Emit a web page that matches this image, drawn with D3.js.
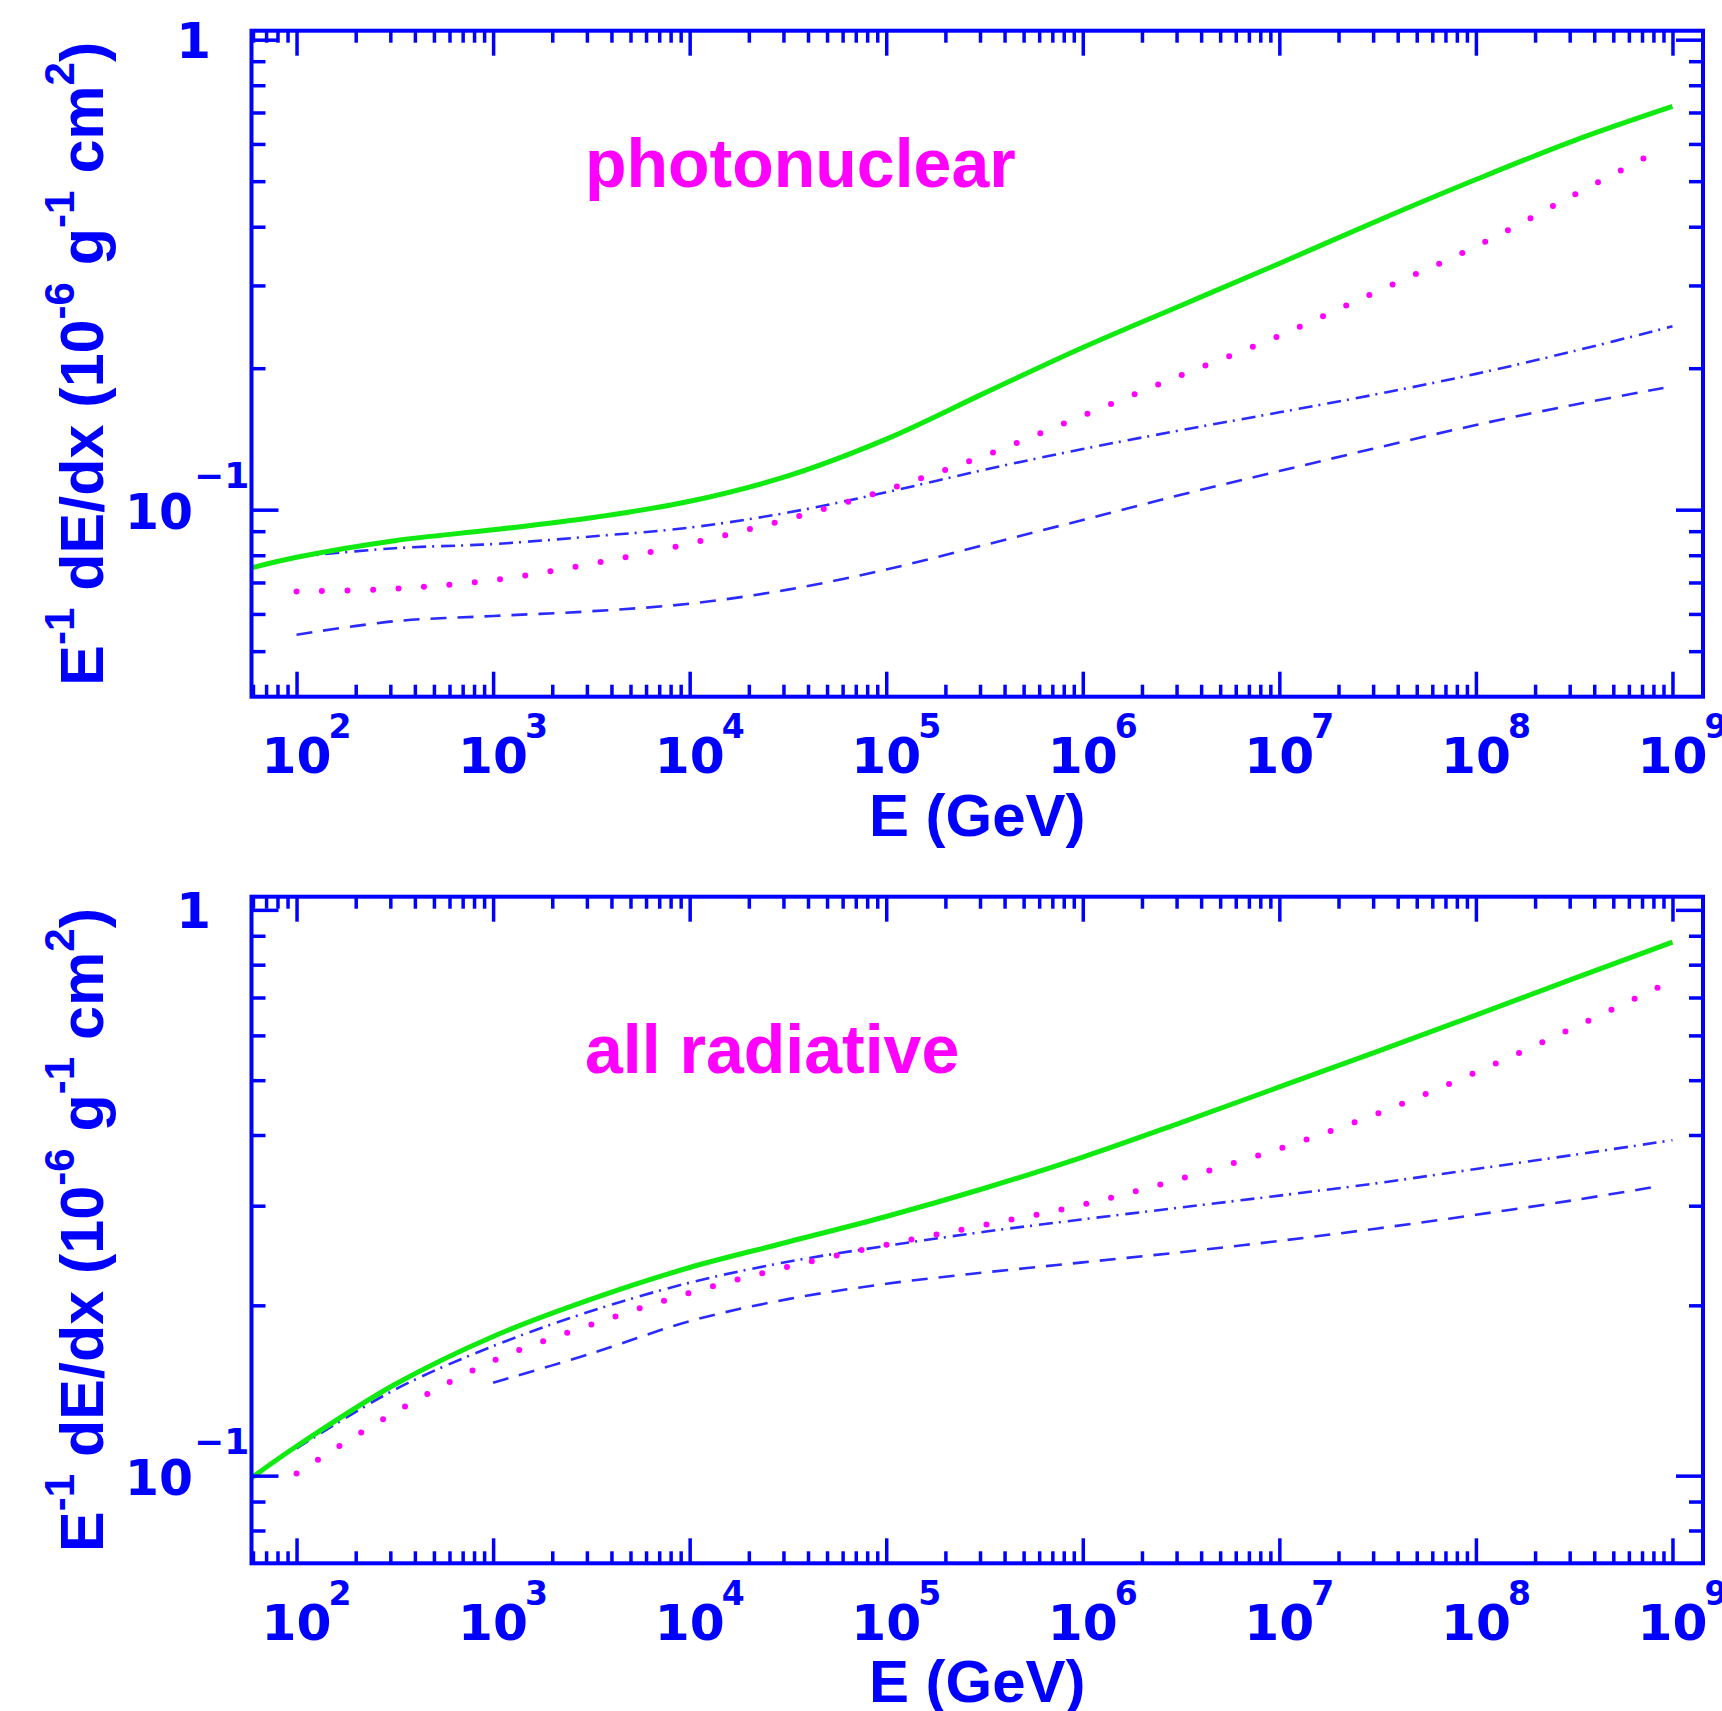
<!DOCTYPE html>
<html>
<head>
<meta charset="utf-8">
<script src="https://cdn.jsdelivr.net/npm/d3@7"></script>
<style>
  body { margin: 0; background: #fff; }
  .tick-axis path { display: none; }
  .tick-axis line { stroke: #0000ff; stroke-width: 3.5; }
  .num { font-family: 'DejaVu Sans', sans-serif; font-weight: bold; fill: #0000ff; }
  .title { font-family: 'Liberation Sans', Arial, sans-serif; font-weight: bold; fill: #0000ff; }
</style>
</head>
<body>
<svg id="chart"></svg>
<script>
/// data ////////////////////////////////
// energies in GeV, values in 10^-6 g^-1 cm^2
const phTotalE = [59, 1e2, 3.16e2, 1e3, 3.16e3, 1e4, 3.16e4, 1e5, 3.16e5, 1e6, 3.16e6, 1e7, 3.16e7, 1e8, 3.16e8, 1e9]
const phTotal = [0.0752, 0.0792, 0.0859, 0.0906, 0.0961, 0.1042, 0.118, 0.1413, 0.177, 0.2213, 0.272, 0.334, 0.412, 0.504, 0.610, 0.721]
const phDashDotE = [1e2, 3.16e2, 1e3, 3.16e3, 1e4, 3.16e4, 1e5, 3.16e5, 1e6, 3.16e6, 1e7, 3.16e7, 1e8, 3.16e8, 1e9]
const phDashDot = [0.0794, 0.0828, 0.0845, 0.0877, 0.0916, 0.0986, 0.1089, 0.1216, 0.1346, 0.1476, 0.1611, 0.1762, 0.1945, 0.2175, 0.2455]
const phDottedE = [1e2, 3.16e2, 1e3, 3.16e3, 1e4, 3.16e4, 1e5, 3.16e5, 1e6, 3.16e6, 1e7, 3.16e7, 1e8, 3.16e8, 8e8]
const phDotted = [0.067, 0.0679, 0.0708, 0.0767, 0.0847, 0.0955, 0.1102, 0.1303, 0.1585, 0.1932, 0.2344, 0.2917, 0.3631, 0.4677, 0.5728]
const phDashedE = [1e2, 3.16e2, 1e3, 3.16e3, 1e4, 3.16e4, 1e5, 3.16e5, 1e6, 3.16e6, 1e7, 3.16e7, 1e8, 3.16e8, 9e8]
const phDashed = [0.0542, 0.0579, 0.0594, 0.0608, 0.0631, 0.0676, 0.0746, 0.0841, 0.0951, 0.1076, 0.1208, 0.1355, 0.1514, 0.1672, 0.1815]

const arTotalE = [59, 1e2, 3.16e2, 1e3, 3.16e3, 1e4, 3.16e4, 1e5, 3.16e5, 1e6, 3.16e6, 1e7, 3.16e7, 1e8, 3.16e8, 1e9]
const arTotal = [0.0991, 0.1127, 0.1449, 0.1762, 0.2051, 0.2333, 0.2588, 0.2871, 0.3221, 0.3656, 0.4207, 0.4864, 0.5623, 0.6516, 0.7568, 0.877]
const arDashDotE = [1e2, 3.16e2, 1e3, 3.16e3, 1e4, 3.16e4, 1e5, 3.16e5, 1e6, 3.16e6, 1e7, 3.16e7, 1e8, 3.16e8, 1e9]
const arDashDot = [0.1117, 0.1419, 0.1694, 0.1954, 0.2193, 0.2388, 0.2547, 0.2698, 0.2838, 0.2979, 0.3126, 0.3289, 0.3483, 0.369, 0.3917]
const arDottedE = [1e2, 3.16e2, 1e3, 3.16e3, 1e4, 3.16e4, 1e5, 3.16e5, 1e6, 3.16e6, 1e7, 3.16e7, 1e8, 3.16e8, 9.3e8]
const arDotted = [0.1009, 0.1294, 0.1596, 0.1849, 0.2104, 0.2339, 0.2559, 0.2773, 0.3013, 0.335, 0.3784, 0.4365, 0.5164, 0.6194, 0.7413]
const arDashedE = [1e3, 3.16e3, 1e4, 3.16e4, 1e5, 3.16e5, 1e6, 3.16e6, 1e7, 3.16e7, 1e8, 3.16e8, 8.7e8]
const arDashed = [0.1459, 0.1644, 0.1875, 0.2051, 0.2183, 0.2286, 0.2382, 0.2483, 0.26, 0.2735, 0.2891, 0.3069, 0.3251]

/// ticks ////////////////////////////////
const xMajor = [1e2, 1e3, 1e4, 1e5, 1e6, 1e7, 1e8, 1e9]
const xDecades = [1e1, 1e2, 1e3, 1e4, 1e5, 1e6, 1e7, 1e8]
const mantissas = [2, 3, 4, 5, 6, 7, 8, 9]
const yMajor = [0.1, 1]
const yMinorTop = [0.05, 0.06, 0.07, 0.08, 0.09, 0.2, 0.3, 0.4, 0.5, 0.6, 0.7, 0.8, 0.9]
const yMinorBottom = [0.08, 0.09, 0.2, 0.3, 0.4, 0.5, 0.6, 0.7, 0.8, 0.9]

/// layout ////////////////////////////////
const width = 1722
const height = 1711
const left = 251.5
const right = 1703

const svg = d3.select('#chart').attr('width', width).attr('height', height)

const xScale = d3.scaleLog().domain([59, 1.43e9]).range([left, right])
const xMinor = xDecades
  .flatMap(d => mantissas.map(m => m * d))
  .filter(v => v > 59 && v < 1.43e9)

const styles = {
  total: { stroke: '#10ea10', width: 5, dash: null, cap: 'butt' },
  dashdot: { stroke: '#2b2bff', width: 2.6, dash: '14,6,2,7', cap: 'butt' },
  dotted: { stroke: '#ff00ff', width: 6, dash: '0,25.5', cap: 'round' },
  dashed: { stroke: '#2b2bff', width: 2.6, dash: '16,11', cap: 'butt' }
}

const panels = [
  {
    top: 30.7,
    bottom: 696.7,
    yDomain: [0.04, 1.045],
    yMinor: yMinorTop,
    name: 'photonuclear',
    nameY: 187,
    series: [
      { key: 'dashed', e: phDashedE, v: phDashed },
      { key: 'dashdot', e: phDashDotE, v: phDashDot },
      { key: 'dotted', e: phDottedE, v: phDotted },
      { key: 'total', e: phTotalE, v: phTotal }
    ]
  },
  {
    top: 896.7,
    bottom: 1563.3,
    yDomain: [0.07, 1.055],
    yMinor: yMinorBottom,
    name: 'all radiative',
    nameY: 1073,
    series: [
      { key: 'dashed', e: arDashedE, v: arDashed },
      { key: 'dashdot', e: arDashDotE, v: arDashDot },
      { key: 'dotted', e: arDottedE, v: arDotted },
      { key: 'total', e: arTotalE, v: arTotal }
    ]
  }
]

panels.forEach(drawPanel)

function drawPanel(p) {
  const yScale = d3.scaleLog().domain(p.yDomain).range([p.bottom, p.top])
  const g = svg.append('g')

  /// curves ////
  const line = d3
    .line()
    .x(d => xScale(d[0]))
    .y(d => yScale(d[1]))
    .curve(d3.curveCatmullRom.alpha(0.5))

  p.series.forEach(s => {
    const st = styles[s.key]
    g.append('path')
      .attr('d', line(d3.zip(s.e, s.v)))
      .attr('fill', 'none')
      .attr('stroke', st.stroke)
      .attr('stroke-width', st.width)
      .attr('stroke-linecap', st.cap)
      .attr('stroke-dasharray', st.dash)
  })

  /// frame ////
  g.append('rect')
    .attr('x', left)
    .attr('y', p.top)
    .attr('width', right - left)
    .attr('height', p.bottom - p.top)
    .attr('fill', 'none')
    .attr('stroke', '#0000ff')
    .attr('stroke-width', 4)

  /// ticks, all pointing inward ////
  const tickSets = [
    [d3.axisBottom(xScale).tickValues(xMajor).tickSize(-25), p.bottom, 'x'],
    [d3.axisBottom(xScale).tickValues(xMinor).tickSize(-12), p.bottom, 'x'],
    [d3.axisTop(xScale).tickValues(xMajor).tickSize(-25), p.top, 'x'],
    [d3.axisTop(xScale).tickValues(xMinor).tickSize(-12), p.top, 'x'],
    [d3.axisLeft(yScale).tickValues(yMajor).tickSize(-27), left, 'y'],
    [d3.axisLeft(yScale).tickValues(p.yMinor).tickSize(-14), left, 'y'],
    [d3.axisRight(yScale).tickValues(yMajor).tickSize(-27), right, 'y'],
    [d3.axisRight(yScale).tickValues(p.yMinor).tickSize(-14), right, 'y']
  ]
  tickSets.forEach(([ax, pos, dir]) => {
    g.append('g')
      .attr('class', 'tick-axis')
      .attr('transform', dir === 'x' ? `translate(0,${pos})` : `translate(${pos},0)`)
      .call(ax.tickSizeOuter(0).tickFormat(''))
      .call(a => a.selectAll('text').remove())
  })

  /// x tick labels: 10^n ////
  const xl = g.selectAll('.xlabel').data(xMajor).enter().append('g')
  xl.append('text')
    .attr('class', 'num')
    .attr('x', d => xScale(d))
    .attr('y', p.bottom + 76.5)
    .attr('text-anchor', 'middle')
    .attr('font-size', 50)
    .attr('textLength', 70)
    .attr('lengthAdjust', 'spacingAndGlyphs')
    .text('10')
  xl.append('text')
    .attr('class', 'num')
    .attr('x', d => xScale(d) + 32)
    .attr('y', p.bottom + 41.5)
    .attr('font-size', 33)
    .text(d => Math.round(Math.log10(d)))

  /// y tick labels ////
  g.append('text')
    .attr('class', 'num')
    .attr('x', 211)
    .attr('y', yScale(1) + 18.5)
    .attr('text-anchor', 'end')
    .attr('font-size', 50)
    .text('1')
  g.append('text')
    .attr('class', 'num')
    .attr('x', 193)
    .attr('y', yScale(0.1) + 19)
    .attr('text-anchor', 'end')
    .attr('font-size', 50)
    .attr('textLength', 68)
    .attr('lengthAdjust', 'spacingAndGlyphs')
    .text('10')
  g.append('text')
    .attr('class', 'num')
    .attr('x', 194)
    .attr('y', yScale(0.1) - 22)
    .attr('font-size', 36)
    .text('\u22121')

  /// axis titles ////
  g.append('text')
    .attr('class', 'title')
    .attr('x', (left + right) / 2)
    .attr('y', p.bottom + 139)
    .attr('text-anchor', 'middle')
    .attr('font-size', 60)
    .text('E (GeV)')

  const yt = g.append('text')
    .attr('class', 'title')
    .attr('transform', `translate(103,${(p.top + p.bottom) / 2}) rotate(-90)`)
    .attr('text-anchor', 'middle')
    .attr('font-size', 61)
  const parts = [
    ['E', 0], ['-1', 1], [' dE/dx (10', 0], ['-6', 1], [' g', 0], ['-1', 1], [' cm', 0], ['2', 1], [')', 0]
  ]
  let up = false
  parts.forEach(([t, sup]) => {
    const ts = yt.append('tspan').text(t)
    if (sup && !up) { ts.attr('dy', -29).attr('font-size', 42); up = true }
    else if (!sup && up) { ts.attr('dy', 29); up = false }
  })

  /// panel name ////
  g.append('text')
    .attr('class', 'title')
    .attr('x', 585)
    .attr('y', p.nameY)
    .attr('font-size', 68)
    .style('fill', '#ff00ff')
    .text(p.name)
}
</script>
</body>
</html>
